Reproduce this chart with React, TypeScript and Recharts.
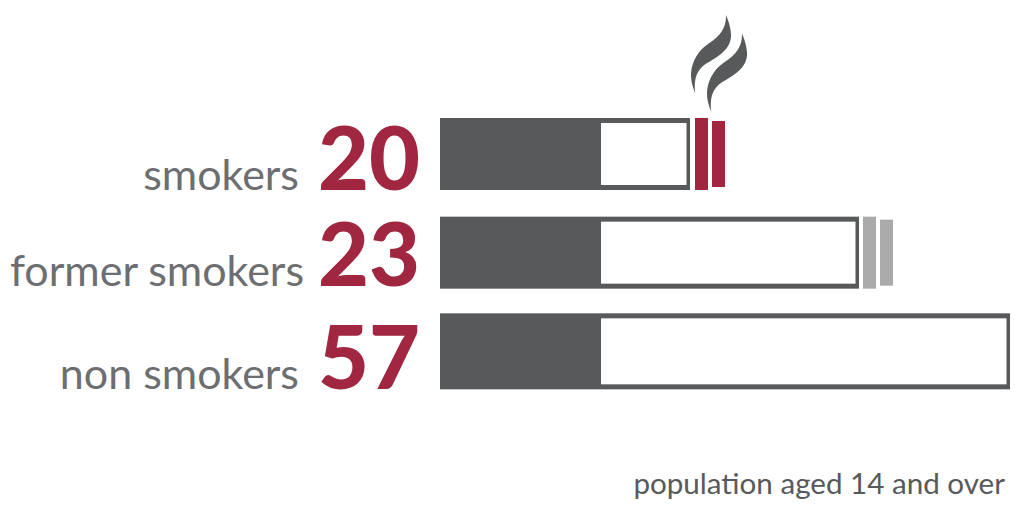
import { Bar, BarChart, XAxis, YAxis } from 'recharts';

// Smoking status drawn as three cigarettes: filter, paper, then two ash bands.
const categories = ['smokers', 'former smokers', 'non smokers'];
const shares = [20, 23, 57];
const filterLengths = [28.25, 28.25, 28.25];
const paperLengths = [15.6, 45.3, 71.75];
const firstGaps = [0.88, 0.7, 0];
const firstAsh = [2.28, 2.28, 0];
const secondGaps = [0.7, 0.7, 0];
const secondAsh = [2.28, 2.28, 0];

const data = categories.map((name, i) => ({
  name,
  share: shares[i],
  filter: filterLengths[i],
  paper: paperLengths[i],
  gapA: firstGaps[i],
  ashA: firstAsh[i],
  gapB: secondGaps[i],
  ashB: secondAsh[i],
}));

const DARK = '#58595b';
const CRIMSON = '#a12741';
const ASH_GREY = '#a9aaa9';
const LABEL = '#6d6e71';
const FONT = 'Lato, Carlito, sans-serif';
const ASH_COLORS = [CRIMSON, ASH_GREY, ASH_GREY];

// the third cigarette is a little thicker than the other two
const rowGrow = (index: number) => (index === 2 ? 2 : 0);

function FilterShape(props: any) {
  const { x, y, width, height, index } = props;
  const g = rowGrow(index);
  return <rect x={Math.round(x)} y={y - g} width={Math.round(width)} height={height + g * 2} fill={DARK} />;
}

function PaperShape(props: any) {
  const { x, y, width, height, index } = props;
  const g = rowGrow(index);
  const left = Math.round(x);
  const w = Math.round(x + width) - left;
  return (
    <g>
      <rect x={left} y={y - g} width={w} height={height + g * 2} fill={DARK} />
      <rect x={left} y={y - g + 5} width={w - 3.5} height={height + g * 2 - 10} fill="#ffffff" />
    </g>
  );
}

function Smoke({ x, y }: { x: number; y: number }) {
  const d =
    'M0,0 C0.3,13 -5.7,21 -18,29 C-30,37 -35,50 -35,60 C-35,68 -32,75 -30.7,78.3 ' +
    'C-32.3,65 -30.2,54 -17,47 C-5.3,40 7,32 4.8,17 C3.8,8 1,3 0,0 Z';
  return (
    <g fill={DARK}>
      <path d={d} transform={`translate(${x},${y})`} />
      <path d={d} transform={`translate(${x + 16},${y + 18.5})`} />
    </g>
  );
}

function AshShape(props: any) {
  const { x, y, width, height, index } = props;
  if (!width || width <= 0) return null;
  return (
    <g>
      <rect x={Math.round(x)} y={y} width={13} height={height} fill={ASH_COLORS[index]} />
      {index === 0 && <Smoke x={Math.round(x) + 31} y={y - 103} />}
    </g>
  );
}

function ShortAshShape(props: any) {
  const { x, y, width, height, index } = props;
  if (!width || width <= 0) return null;
  return <rect x={Math.round(x)} y={y + 3} width={13} height={height - 6} fill={ASH_COLORS[index]} />;
}

const labelEnds = [299, 304, 299];
const baselineNudge = [36, 33, 37];

function RowTick(props: any) {
  const { y, payload, index } = props;
  const base = y + baselineNudge[index];
  return (
    <g fontFamily={FONT}>
      <text x={labelEnds[index]} y={base} textAnchor="end" fontSize={43} fill={LABEL}>
        {payload.value}
      </text>
      <text x={420} y={base} textAnchor="end" fontSize={88} fontWeight={900} fill={CRIMSON}>
        {shares[index]}
      </text>
    </g>
  );
}

export default function App() {
  return (
    <div style={{ position: 'absolute', left: 0, top: 0, width: 1034, height: 508, background: '#fff' }}>
      <BarChart
        width={1034}
        height={508}
        layout="vertical"
        data={data}
        barSize={72}
        margin={{ top: 105, right: 24, bottom: 107, left: 0 }}
      >
        <XAxis type="number" domain={[0, 100]} hide />
        <YAxis type="category" dataKey="name" width={440} axisLine={false} tickLine={false} tick={RowTick} interval={0} />
        <Bar dataKey="filter" stackId="c" shape={FilterShape} isAnimationActive={false} />
        <Bar dataKey="paper" stackId="c" shape={PaperShape} isAnimationActive={false} />
        <Bar dataKey="gapA" stackId="c" fill="none" isAnimationActive={false} />
        <Bar dataKey="ashA" stackId="c" shape={AshShape} isAnimationActive={false} />
        <Bar dataKey="gapB" stackId="c" fill="none" isAnimationActive={false} />
        <Bar dataKey="ashB" stackId="c" shape={ShortAshShape} isAnimationActive={false} />
        <text x={1005} y={494} textAnchor="end" fontFamily={FONT} fontSize={29.6} fill={DARK}>
          population aged 14 and over
        </text>
      </BarChart>
    </div>
  );
}
